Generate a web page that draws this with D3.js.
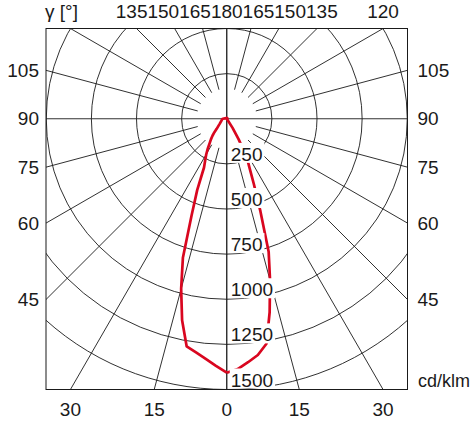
<!DOCTYPE html>
<html>
<head>
<meta charset="utf-8">
<script src="https://cdn.jsdelivr.net/npm/d3@7"></script>
<style>
  html, body { margin: 0; padding: 0; background: #fff; }
  svg { display: block; font-family: "Liberation Sans", Arial, sans-serif; }
</style>
</head>
<body>
<div id="polarChart"></div>
<script>
// luminous intensity distribution, values in cd/klm
var gamma = [0, 2.5, 5, 7.5, 10, 12.5, 15, 17.5, 20, 22.5, 25, 27.5, 30, 32.5, 35, 37.5, 40, 42.5, 45,
             50, 55, 60, 65, 70, 75, 80, 85, 90, 100, 110, 120, 130, 140, 150, 160, 170, 180];
// right half of the diagram (C0)
var intensityC0 = [1407, 1388, 1354, 1320, 1266, 1098, 927, 772, 545, 393, 297, 241, 132, 60, 5, 4, 4, 4, 4,
                   4, 4, 4, 4, 4, 4, 4, 4, 4, 4, 4, 4, 4, 4, 4, 4, 4, 5];
// left half of the diagram (C180)
var intensityC180 = [1407, 1370, 1335, 1305, 1280, 1143, 976, 808, 569, 428, 298, 258, 227, 195, 165, 144, 123, 101, 79,
                     59, 47, 40, 35, 31, 29, 27, 25, 22, 10, 6, 5, 5, 5, 5, 5, 5, 5];
var gammaTicks = [0, 15, 30, 45, 60, 75, 90, 105, 120, 135, 150, 165, 180];
var intensityTicks = [250, 500, 750, 1000, 1250, 1500];
var gammaTitle = "γ [°]";
var unitLabel = "cd/klm";

var width = 472, height = 424;
var frame = { left: 46, right: 407.5, top: 28.5, bottom: 389.5 };
var fontSize = 19;
var x, y, r, cx, cy, svg;

function initSvg() {
    svg = d3.select("#polarChart")
        .append("svg")
        .attr("width", width)
        .attr("height", height);
    svg.append("rect").attr("width", width).attr("height", height).attr("fill", "#fff");
    svg.append("defs").append("clipPath")
        .attr("id", "frameClip")
        .append("rect")
        .attr("x", frame.left)
        .attr("y", frame.top)
        .attr("width", frame.right - frame.left)
        .attr("height", frame.bottom - frame.top);
}

function initScales() {
    x = d3.scaleLinear().domain([-1000, 1000]).range([frame.left, frame.right]);
    y = d3.scaleLinear().domain([500, -1500]).range([frame.top, frame.bottom]);
    cx = x(0);
    cy = y(0);
    r = d3.scaleLinear().domain([0, 1500]).range([0, y(-1500) - y(0)]);
}

function spokePoint(g, side, rho) {
    var a = g * Math.PI / 180;
    return [side * Math.sin(a) * rho, Math.cos(a) * rho];
}

function drawGrid() {
    var grid = svg.append("g")
        .attr("clip-path", "url(#frameClip)")
        .append("g")
        .attr("transform", "translate(" + cx + "," + cy + ")");

    grid.selectAll(".ring")
        .data(intensityTicks)
        .enter().append("circle")
        .attr("class", "ring")
        .attr("r", function (d) { return r(d); })
        .attr("fill", "none")
        .attr("stroke", "#1a1a1a")
        .attr("stroke-width", 0.9);

    var spokes = [];
    gammaTicks.forEach(function (g) {
        spokes.push({ g: g, side: 1 });
        spokes.push({ g: g, side: -1 });
    });
    var innerR = r(1500) / 9;
    grid.selectAll(".spoke")
        .data(spokes)
        .enter().append("line")
        .attr("class", "spoke")
        .each(function (d) {
            var r0 = d.g % 90 === 0 ? 0 : innerR;
            var p0 = spokePoint(d.g, d.side, r0);
            var p1 = spokePoint(d.g, d.side, r(2200));
            d3.select(this)
                .attr("x1", p0[0]).attr("y1", p0[1])
                .attr("x2", p1[0]).attr("y2", p1[1]);
        })
        .attr("stroke", "#1a1a1a")
        .attr("stroke-width", 0.9);

    svg.append("rect")
        .attr("x", frame.left)
        .attr("y", frame.top)
        .attr("width", frame.right - frame.left)
        .attr("height", frame.bottom - frame.top)
        .attr("fill", "none")
        .attr("stroke", "#1a1a1a")
        .attr("stroke-width", 1);
}

function drawCurve() {
    var right = gamma.map(function (g, i) { return [Math.PI - g * Math.PI / 180, r(intensityC0[i])]; });
    var left = gamma.map(function (g, i) { return [Math.PI + g * Math.PI / 180, r(intensityC180[i])]; }).reverse();
    var line = d3.lineRadial()
        .angle(function (d) { return d[0]; })
        .radius(function (d) { return d[1]; });
    svg.append("path")
        .attr("transform", "translate(" + cx + "," + cy + ")")
        .attr("d", line(right.concat(left)))
        .attr("fill", "none")
        .attr("stroke", "#d9061f")
        .attr("stroke-width", 2.7)
        .attr("stroke-linejoin", "round");
}

function drawIntensityLabels() {
    var lab = svg.append("g").selectAll(".ilabel")
        .data(intensityTicks)
        .enter().append("g")
        .attr("class", "ilabel")
        .attr("transform", function (d) { return "translate(" + (cx + 4) + "," + (cy + r(d) - 3) + ")"; });
    var bg = lab.append("rect").attr("fill", "#fff");
    lab.append("text")
        .attr("font-size", fontSize)
        .attr("fill", "#1a1a1a")
        .text(function (d) { return d; });
    bg.each(function () {
        var w = this.parentNode.querySelector("text").getComputedTextLength();
        d3.select(this).attr("x", -1).attr("y", -fontSize + 1).attr("width", w + 3).attr("height", fontSize + 1);
    });
}

function frameExit(g, side) {
    var a = g * Math.PI / 180, dx = side * Math.sin(a), dy = Math.cos(a), hits = [];
    if (dx < -1e-9) hits.push({ t: (frame.left - cx) / dx, edge: "left" });
    if (dx > 1e-9) hits.push({ t: (frame.right - cx) / dx, edge: "right" });
    if (dy > 1e-9) hits.push({ t: (frame.bottom - cy) / dy, edge: "bottom" });
    if (dy < -1e-9) hits.push({ t: (frame.top - cy) / dy, edge: "top" });
    var m = d3.least(hits, function (h) { return h.t; });
    return { x: cx + dx * m.t, y: cy + dy * m.t, edge: m.edge };
}

function drawAngleLabels() {
    var layer = svg.append("g").attr("font-size", fontSize).attr("fill", "#1a1a1a");

    var title = layer.append("text")
        .attr("x", frame.left - 1)
        .attr("y", 18)
        .text(gammaTitle);
    var titleRight = frame.left - 1 + title.node().getComputedTextLength();

    var seen = {}, labels = [];
    gammaTicks.forEach(function (g) {
        [-1, 1].forEach(function (side) {
            var p = frameExit(g, side);
            var key = p.edge + Math.round(p.x) + "_" + Math.round(p.y);
            if (seen[key]) return;
            seen[key] = true;
            labels.push({ g: g, x: p.x, y: p.y, edge: p.edge });
        });
    });

    labels.forEach(function (d) {
        var t = layer.append("text").text(d.g);
        d.node = t.node();
        d.w = d.node.getComputedTextLength();
        if (d.edge === "left") {
            t.attr("x", frame.left - 7).attr("y", d.y).attr("dy", "0.35em").attr("text-anchor", "end");
        } else if (d.edge === "right") {
            t.attr("x", frame.right + 10).attr("y", d.y).attr("dy", "0.35em");
        } else if (d.edge === "bottom") {
            t.attr("x", d.x).attr("y", 416).attr("text-anchor", "middle");
        } else {
            t.attr("y", 18).attr("text-anchor", "middle");
        }
    });

    // top row: drop what runs into the title, then push crowded labels outward
    var tops = labels.filter(function (d) { return d.edge === "top"; })
        .sort(function (a, b) { return a.x - b.x; });
    tops = tops.filter(function (d) {
        if (d.x - d.w / 2 < titleRight) { d3.select(d.node).remove(); return false; }
        return true;
    });
    var mid = d3.minIndex(tops, function (d) { return Math.abs(d.x - cx); });
    var i, lim;
    for (i = mid + 1; i < tops.length; i++) {
        lim = tops[i - 1].x + tops[i - 1].w / 2 + tops[i].w / 2;
        if (tops[i].x < lim) tops[i].x = lim;
    }
    for (i = mid - 1; i >= 0; i--) {
        lim = tops[i + 1].x - tops[i + 1].w / 2 - tops[i].w / 2;
        if (tops[i].x > lim) tops[i].x = lim;
    }
    tops.forEach(function (d) { d3.select(d.node).attr("x", d.x); });

    layer.append("text")
        .attr("x", frame.right + 10.5)
        .attr("y", frame.bottom - 2.5)
        .attr("font-size", 18)
        .text(unitLabel);
}

initScales();
initSvg();
drawGrid();
drawCurve();
drawIntensityLabels();
drawAngleLabels();
</script>
</body>
</html>
